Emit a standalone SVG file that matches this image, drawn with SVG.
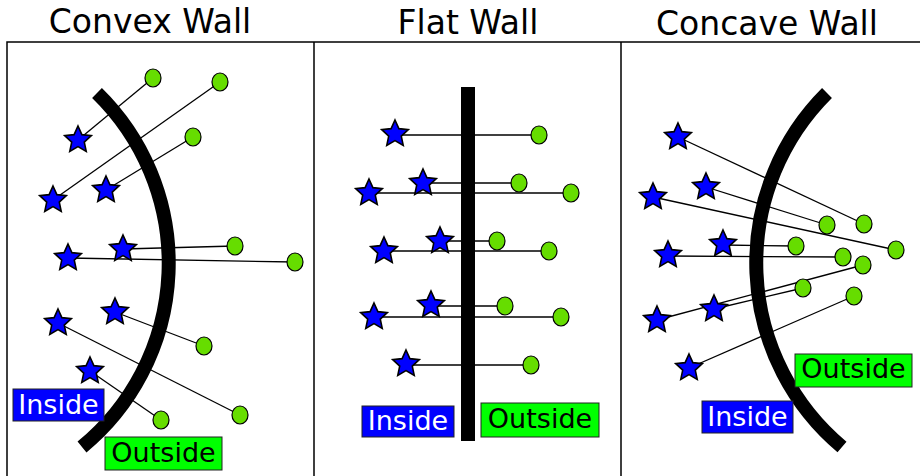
<svg xmlns="http://www.w3.org/2000/svg" xmlns:xlink="http://www.w3.org/1999/xlink" width="920" height="476" viewBox="0 0 920 476">
<style>
.title{font-family:"DejaVu Sans","Liberation Sans",sans-serif;font-size:33px;fill:#000;text-anchor:middle}
.lbl{font-family:"DejaVu Sans","Liberation Sans",sans-serif;font-size:27px;text-anchor:middle}
.frame{stroke:#000;stroke-width:1.5;fill:none}
.wall{stroke:#000;stroke-width:14;fill:none;stroke-linecap:butt}
.conn line{stroke:#000;stroke-width:1.3}
.star{fill:#0000ff;stroke:#000;stroke-width:1.6;stroke-linejoin:miter}
.dot{fill:#66dd00;stroke:#000;stroke-width:1.2}
.inbox{fill:#0000ff;stroke:#222;stroke-width:1}
.outbox{fill:#00ff00;stroke:#222;stroke-width:1}
</style>
<defs>
<path id="star" d="M0,-14 L3.88,-5.34 L13.32,-4.33 L6.28,2.04 L8.23,11.33 L0,6.6 L-8.23,11.33 L-6.28,2.04 L-13.32,-4.33 L-3.88,-5.34 Z"/>
<ellipse id="dot" cx="0" cy="0" rx="8" ry="9"/>
</defs>
<rect width="920" height="476" fill="#fff"/>
<g id="titles">
<text class="title" x="150" y="33">Convex Wall</text>
<text class="title" x="468" y="34">Flat Wall</text>
<text class="title" x="767" y="35">Concave Wall</text>
</g>
<g id="frame">
<path class="frame" d="M7,476 V42 H920 M314,42 V476 M621,42 V476"/>
</g>
<g id="connectors" class="conn">
<line x1="78" y1="140" x2="153" y2="78"/>
<line x1="53" y1="200" x2="220" y2="82"/>
<line x1="106" y1="190" x2="193" y2="137"/>
<line x1="123" y1="249" x2="235" y2="246"/>
<line x1="68" y1="258" x2="295" y2="262"/>
<line x1="115" y1="312" x2="204" y2="346"/>
<line x1="58" y1="323" x2="240" y2="415"/>
<line x1="90" y1="371" x2="161" y2="420"/>
<line x1="395" y1="135" x2="539" y2="135"/>
<line x1="423" y1="183" x2="519" y2="183"/>
<line x1="369" y1="193" x2="571" y2="193"/>
<line x1="440" y1="241" x2="497" y2="241"/>
<line x1="384" y1="251" x2="549" y2="251"/>
<line x1="431" y1="306" x2="505" y2="306"/>
<line x1="374" y1="317" x2="561" y2="317"/>
<line x1="406" y1="365" x2="531" y2="365"/>
<line x1="678" y1="137" x2="864" y2="224"/>
<line x1="706" y1="187" x2="827" y2="225"/>
<line x1="653" y1="197" x2="896" y2="250"/>
<line x1="723" y1="245" x2="796" y2="246"/>
<line x1="668" y1="256" x2="843" y2="257"/>
<line x1="657" y1="320" x2="863" y2="265"/>
<line x1="714" y1="309" x2="803" y2="288"/>
<line x1="689" y1="368" x2="854" y2="296"/>
</g>
<g id="walls">
<path id="convex-wall" class="wall" d="M97,93 A238,238 0 0 1 82,447"/>
<rect id="flat-wall" x="461" y="87" width="14" height="354" fill="#000"/>
<path id="concave-wall" class="wall" d="M827,93 A240,240 0 0 0 842,447"/>
</g>
<g id="convex-nodes">
<use id="cv-s1" class="star" href="#star" x="78" y="140"/>
<use id="cv-s2" class="star" href="#star" x="53" y="200"/>
<use id="cv-s3" class="star" href="#star" x="106" y="190"/>
<use id="cv-s4" class="star" href="#star" x="68" y="258"/>
<use id="cv-s5" class="star" href="#star" x="123" y="249"/>
<use id="cv-s6" class="star" href="#star" x="115" y="312"/>
<use id="cv-s7" class="star" href="#star" x="58" y="323"/>
<use id="cv-s8" class="star" href="#star" x="90" y="371"/>
<use id="cv-c1" class="dot" href="#dot" x="153" y="78"/>
<use id="cv-c2" class="dot" href="#dot" x="220" y="82"/>
<use id="cv-c3" class="dot" href="#dot" x="193" y="137"/>
<use id="cv-c4" class="dot" href="#dot" x="235" y="246"/>
<use id="cv-c5" class="dot" href="#dot" x="295" y="262"/>
<use id="cv-c6" class="dot" href="#dot" x="204" y="346"/>
<use id="cv-c7" class="dot" href="#dot" x="240" y="415"/>
<use id="cv-c8" class="dot" href="#dot" x="161" y="420"/>
</g>
<g id="flat-nodes">
<use id="fl-s1" class="star" href="#star" x="395" y="134"/>
<use id="fl-s2" class="star" href="#star" x="369" y="193"/>
<use id="fl-s3" class="star" href="#star" x="423" y="183"/>
<use id="fl-s4" class="star" href="#star" x="384" y="251"/>
<use id="fl-s5" class="star" href="#star" x="440" y="241"/>
<use id="fl-s6" class="star" href="#star" x="374" y="317"/>
<use id="fl-s7" class="star" href="#star" x="431" y="305"/>
<use id="fl-s8" class="star" href="#star" x="406" y="364"/>
<use id="fl-c1" class="dot" href="#dot" x="539" y="135"/>
<use id="fl-c2" class="dot" href="#dot" x="519" y="183"/>
<use id="fl-c3" class="dot" href="#dot" x="571" y="193"/>
<use id="fl-c4" class="dot" href="#dot" x="497" y="241"/>
<use id="fl-c5" class="dot" href="#dot" x="549" y="251"/>
<use id="fl-c6" class="dot" href="#dot" x="505" y="306"/>
<use id="fl-c7" class="dot" href="#dot" x="561" y="317"/>
<use id="fl-c8" class="dot" href="#dot" x="531" y="365"/>
</g>
<g id="concave-nodes">
<use id="cc-s1" class="star" href="#star" x="678" y="137"/>
<use id="cc-s2" class="star" href="#star" x="653" y="197"/>
<use id="cc-s3" class="star" href="#star" x="706" y="187"/>
<use id="cc-s4" class="star" href="#star" x="668" y="255"/>
<use id="cc-s5" class="star" href="#star" x="723" y="244"/>
<use id="cc-s6" class="star" href="#star" x="657" y="320"/>
<use id="cc-s7" class="star" href="#star" x="714" y="309"/>
<use id="cc-s8" class="star" href="#star" x="689" y="368"/>
<use id="cc-c1" class="dot" href="#dot" x="827" y="225"/>
<use id="cc-c2" class="dot" href="#dot" x="864" y="224"/>
<use id="cc-c3" class="dot" href="#dot" x="896" y="250"/>
<use id="cc-c4" class="dot" href="#dot" x="796" y="246"/>
<use id="cc-c5" class="dot" href="#dot" x="843" y="257"/>
<use id="cc-c6" class="dot" href="#dot" x="863" y="265"/>
<use id="cc-c7" class="dot" href="#dot" x="803" y="288"/>
<use id="cc-c8" class="dot" href="#dot" x="854" y="296"/>
</g>
<g id="convex-inside">
<rect class="inbox" x="13" y="389" width="91" height="32"/>
<text class="lbl" x="58.5" y="414" fill="#fff">Inside</text>
</g>
<g id="convex-outside">
<rect class="outbox" x="105" y="437" width="117" height="33"/>
<text class="lbl" x="163.5" y="462" fill="#000">Outside</text>
</g>
<g id="flat-inside">
<rect class="inbox" x="362" y="406" width="92" height="31"/>
<text class="lbl" x="408" y="430" fill="#fff">Inside</text>
</g>
<g id="flat-outside">
<rect class="outbox" x="481" y="403" width="118" height="34"/>
<text class="lbl" x="540" y="428" fill="#000">Outside</text>
</g>
<g id="concave-outside">
<rect class="outbox" x="795" y="354" width="117" height="33"/>
<text class="lbl" x="853.5" y="378" fill="#000">Outside</text>
</g>
<g id="concave-inside">
<rect class="inbox" x="702" y="401" width="91" height="32"/>
<text class="lbl" x="747.5" y="426" fill="#fff">Inside</text>
</g>
</svg>
